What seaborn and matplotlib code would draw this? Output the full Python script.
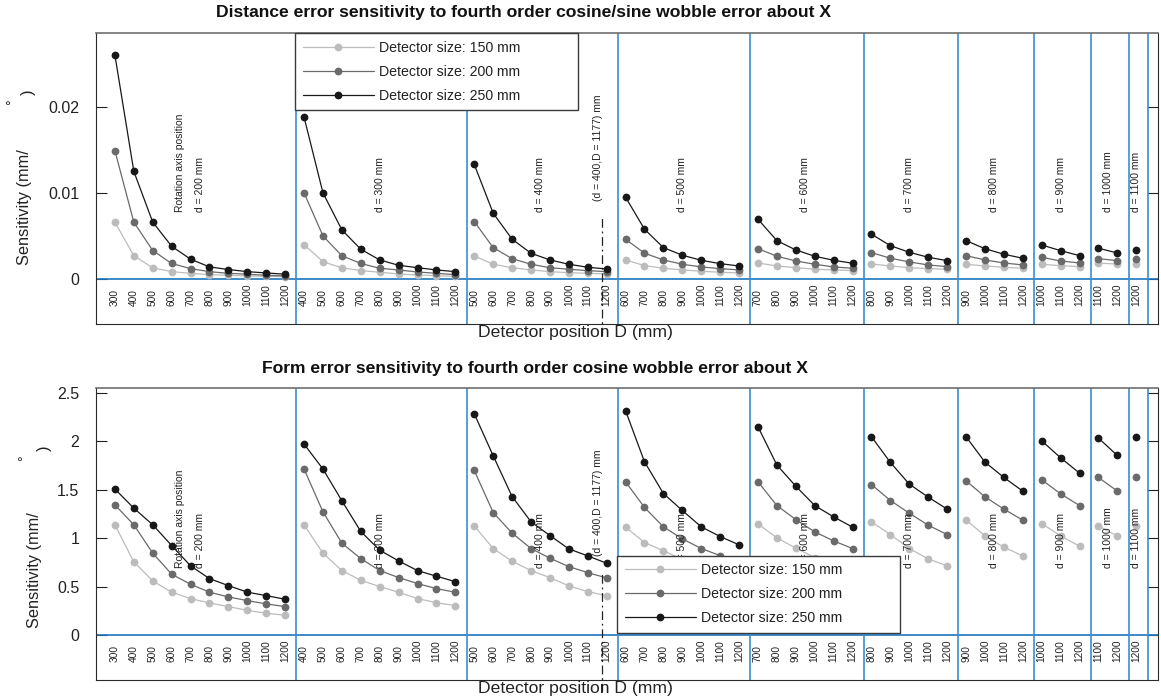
import matplotlib
matplotlib.use("Agg")
import numpy as np
import pandas as pd
import matplotlib.pyplot as plt
import seaborn as sns
from matplotlib.lines import Line2D
from matplotlib.transforms import blended_transform_factory

# ---------------------------------------------------------------- data
# rotation axis positions d (mm), one panel group per value
axis_positions = [200, 300, 400, 500, 600, 700, 800, 900, 1000, 1100]

# detector positions D (mm) evaluated for each rotation axis position
detector_positions = [
    [300, 400, 500, 600, 700, 800, 900, 1000, 1100, 1200],
    [400, 500, 600, 700, 800, 900, 1000, 1100, 1200],
    [500, 600, 700, 800, 900, 1000, 1100, 1200],
    [600, 700, 800, 900, 1000, 1100, 1200],
    [700, 800, 900, 1000, 1100, 1200],
    [800, 900, 1000, 1100, 1200],
    [900, 1000, 1100, 1200],
    [1000, 1100, 1200],
    [1100, 1200],
    [1200],
]

detector_sizes = ["Detector size: 150 mm", "Detector size: 200 mm", "Detector size: 250 mm"]

# distance error sensitivity (mm/deg)
dist_150 = [
    [0.0066, 0.0027, 0.0013, 0.00085, 0.00066, 0.0005, 0.00043, 0.00035, 0.00031, 0.00027],
    [0.0040, 0.0020, 0.0013, 0.00097, 0.00078, 0.00058, 0.00047, 0.00038, 0.00031],
    [0.00267, 0.00171, 0.00131, 0.00105, 0.00085, 0.00073, 0.00066, 0.00058],
    [0.00221, 0.00155, 0.00124, 0.00105, 0.0009, 0.00078, 0.0007],
    [0.00186, 0.00151, 0.00131, 0.00113, 0.00105, 0.00097],
    [0.00174, 0.00151, 0.00131, 0.0012, 0.00113],
    [0.00171, 0.00151, 0.00136, 0.00124],
    [0.00171, 0.00155, 0.00143],
    [0.00183, 0.00174],
    [0.00174],
]
dist_200 = [
    [0.0149, 0.0066, 0.0033, 0.0018, 0.0012, 0.00085, 0.00066, 0.00055, 0.00043, 0.00035],
    [0.0100, 0.0050, 0.0027, 0.0018, 0.00124, 0.00105, 0.00081, 0.00066, 0.0005],
    [0.00667, 0.00364, 0.00236, 0.00171, 0.00131, 0.00113, 0.00097, 0.00085],
    [0.00462, 0.00299, 0.00221, 0.00171, 0.0014, 0.0012, 0.00105],
    [0.00352, 0.00264, 0.00209, 0.00171, 0.0014, 0.00124],
    [0.00306, 0.00241, 0.00198, 0.00163, 0.00143],
    [0.00271, 0.00221, 0.00186, 0.00163],
    [0.00252, 0.00209, 0.00186],
    [0.00236, 0.00213],
    [0.00233],
]
dist_250 = [
    [0.0260, 0.0125, 0.0066, 0.0038, 0.0023, 0.0014, 0.0011, 0.00085, 0.0007, 0.00055],
    [0.0188, 0.0100, 0.0057, 0.00345, 0.00221, 0.00159, 0.00131, 0.00105, 0.00085],
    [0.0133, 0.00764, 0.00462, 0.00299, 0.00221, 0.00171, 0.00136, 0.00116],
    [0.0095, 0.00578, 0.00364, 0.00276, 0.00217, 0.00178, 0.00151],
    [0.00694, 0.00445, 0.00337, 0.00264, 0.00217, 0.00183],
    [0.0052, 0.00387, 0.0031, 0.00252, 0.00213],
    [0.00445, 0.00352, 0.00287, 0.00241],
    [0.00395, 0.00329, 0.00271],
    [0.00357, 0.00302],
    [0.00334],
]

# form error sensitivity (mm/deg)
form_150 = [
    [1.138, 0.755, 0.558, 0.442, 0.375, 0.331, 0.293, 0.255, 0.224, 0.204],
    [1.138, 0.845, 0.665, 0.565, 0.500, 0.441, 0.376, 0.334, 0.303],
    [1.127, 0.893, 0.762, 0.665, 0.593, 0.507, 0.448, 0.406],
    [1.114, 0.955, 0.870, 0.780, 0.700, 0.640, 0.590],
    [1.148, 1.003, 0.897, 0.800, 0.740, 0.680],
    [1.169, 1.037, 0.893, 0.786, 0.714],
    [1.189, 1.024, 0.907, 0.817],
    [1.151, 1.024, 0.917],
    [1.127, 1.021],
    [1.127],
]
form_200 = [
    [1.344, 1.138, 0.845, 0.628, 0.524, 0.442, 0.393, 0.355, 0.321, 0.293],
    [1.714, 1.272, 0.948, 0.789, 0.665, 0.593, 0.531, 0.479, 0.441],
    [1.699, 1.265, 1.052, 0.893, 0.793, 0.706, 0.644, 0.589],
    [1.582, 1.317, 1.117, 0.993, 0.893, 0.820, 0.760],
    [1.582, 1.337, 1.192, 1.065, 0.972, 0.893],
    [1.554, 1.389, 1.258, 1.134, 1.037],
    [1.593, 1.427, 1.300, 1.186],
    [1.603, 1.458, 1.337],
    [1.627, 1.486],
    [1.634],
]
form_250 = [
    [1.507, 1.310, 1.138, 0.924, 0.714, 0.582, 0.510, 0.442, 0.407, 0.369],
    [1.972, 1.714, 1.386, 1.069, 0.876, 0.765, 0.665, 0.607, 0.551],
    [2.285, 1.851, 1.430, 1.169, 1.027, 0.889, 0.817, 0.741],
    [2.316, 1.789, 1.461, 1.286, 1.117, 1.017, 0.931],
    [2.151, 1.755, 1.537, 1.337, 1.220, 1.114],
    [2.048, 1.782, 1.558, 1.424, 1.300],
    [2.048, 1.786, 1.627, 1.486],
    [2.006, 1.830, 1.672],
    [2.034, 1.854],
    [2.041],
]

# reference configuration marked with a dash-dot line
ref_d = 400
ref_D = 1177

dist_ticks = [0, 0.01, 0.02]
dist_ticklabels = ["0", "0.01", "0.02"]
form_ticks = [0, 0.5, 1, 1.5, 2, 2.5]
form_ticklabels = ["0", "0.5", "1", "1.5", "2", "2.5"]

# ---------------------------------------------------------------- style
sns.set_theme(style="white")
plt.rcParams["font.family"] = ["Liberation Sans", "DejaVu Sans"]

palette = {detector_sizes[0]: "#bcbcbc",
           detector_sizes[1]: "#6a6a6a",
           detector_sizes[2]: "#181818"}
sep_color = "#3b8fd0"
zero_color = "#1c76c0"
text_color = "#222222"
MS = 5.6
LW = 0.9
SMALL = 7.5


def long_table(series):
    rows = []
    slot = 0
    for g, (d, Ds) in enumerate(zip(axis_positions, detector_positions)):
        for k, D in enumerate(Ds):
            for size, vals in zip(detector_sizes, series):
                rows.append(dict(slot=slot, d=d, D=D, size=size, value=vals[g][k]))
            slot += 1
    return pd.DataFrame(rows)


# slot index of every (d, D) pair along the x axis
slots = []
s = 0
for Ds in detector_positions:
    slots.append(list(range(s, s + len(Ds))))
    s += len(Ds)


def draw_panel(ax, series, ylim, ticks, ticklabels, legend_box, legend_loc):
    df = long_table(series)
    sns.lineplot(data=df, x="slot", y="value", hue="size", units="d",
                 estimator=None, sort=False, hue_order=detector_sizes,
                 palette=palette, marker="o", markersize=MS,
                 markeredgewidth=0, linewidth=LW, legend=False, ax=ax)

    ax.set_xlim(-1.0, 55.15)
    ax.set_ylim(*ylim)
    ax.set_xticks([])
    ax.set_xlabel("")
    ax.set_ylabel("")
    ax.set_yticks(ticks)
    ax.set_yticklabels(ticklabels)
    ax.tick_params(axis="y", direction="in", length=8, width=0.8,
                   left=True, right=True, labelsize=11.5, pad=12,
                   colors=text_color)
    for name, sp in ax.spines.items():
        sp.set_visible(True)
        sp.set_linewidth(0.8)
        sp.set_color("#2a2a2a")
    ax.spines["top"].set_color("#6e6e6e")
    ax.spines["top"].set_linewidth(1.2)

    ax.axhline(0, color=zero_color, lw=1.2, zorder=1)

    tr = blended_transform_factory(ax.transData, ax.transAxes)
    for g, (d, Ds) in enumerate(zip(axis_positions, detector_positions)):
        idx = slots[g]
        ax.axvline(idx[-1] + 0.6, color=sep_color, lw=1.2, zorder=1)
        for x, D in zip(idx, Ds):
            ax.text(x, 0.062, str(D), transform=tr, rotation=90,
                    ha="center", va="bottom", fontsize=7.3, color=text_color)
        centre = (idx[0] + idx[-1]) / 2
        ax.text(centre, 0.385, f"d = {d} mm", transform=tr, rotation=90,
                ha="center", va="bottom", fontsize=SMALL, color=text_color)
        if g == 0:
            ax.text(centre - 1.05, 0.385, "Rotation axis position",
                    transform=tr, rotation=90, ha="center", va="bottom",
                    fontsize=SMALL, color=text_color)

    # dash-dot marker at the reference configuration
    g = axis_positions.index(ref_d)
    Ds = detector_positions[g]
    k = max(i for i, D in enumerate(Ds) if D <= ref_D)
    xref = slots[g][k] + (ref_D - Ds[k]) / 100.0
    ax.plot([xref, xref], [-0.04, 0.371], transform=tr, color="#222222",
            lw=0.9, ls=(0, (7, 3, 1.5, 3)), clip_on=False, zorder=2)
    ax.text(xref - 0.25, 0.424, f"(d = {ref_d},D = {ref_D}) mm", transform=tr,
            rotation=90, ha="center", va="bottom", fontsize=SMALL, color=text_color)

    handles = [Line2D([], [], color=palette[sz], marker="o", markersize=MS,
                      markeredgewidth=0, linewidth=LW) for sz in detector_sizes]
    leg = ax.legend(handles, detector_sizes, loc=legend_loc,
                    bbox_to_anchor=legend_box, mode="expand",
                    borderaxespad=0, fontsize=10.2, handlelength=5.0,
                    handletextpad=0.4, borderpad=0.55, labelspacing=0.7,
                    fancybox=False, framealpha=1, edgecolor="#3a3a3a")
    leg.get_frame().set_linewidth(1.0)
    for t in leg.get_texts():
        t.set_color(text_color)
    leg.set_zorder(10)


W, H = 1161, 700
fig = plt.figure(figsize=(W / 100, H / 100), dpi=100)

ax_top = fig.add_axes([96 / W, 1 - 324 / H, 1062 / W, 291 / H])
ax_bot = fig.add_axes([96 / W, 1 - 680 / H, 1062 / W, 292 / H])

draw_panel(ax_top, [dist_150, dist_200, dist_250], (-0.00523, 0.02857),
           dist_ticks, dist_ticklabels,
           (0.1874, 0.708, 0.2665, 0.292), "upper left")
draw_panel(ax_bot, [form_150, form_200, form_250], (-0.465, 2.551),
           form_ticks, form_ticklabels,
           (0.4906, 0.161, 0.2665, 0.284), "lower left")

# titles and axis labels
fig.text(523 / W, 1 - 13 / H,
         "Distance error sensitivity to fourth order cosine/sine wobble error about X",
         ha="center", va="center", fontsize=12.6, fontweight="bold", color="#111111")
fig.text(535 / W, 1 - 369 / H,
         "Form error sensitivity to fourth order cosine wobble error about X",
         ha="center", va="center", fontsize=12.6, fontweight="bold", color="#111111")
fig.text(575 / W, 1 - 332 / H, "Detector position D (mm)",
         ha="center", va="center", fontsize=12.6, color=text_color)
fig.text(575 / W, 1 - 688 / H, "Detector position D (mm)",
         ha="center", va="center", fontsize=12.6, color=text_color)

# y labels, with the degree sign and closing bracket set apart
for xc, ybot, deg_xy, br_xy in [(25, 265, (12.5, 102), (28, 92)),
                                 (35, 628, (24, 458), (44, 448))]:
    fig.text(xc / W, 1 - ybot / H, "Sensitivity (mm/", rotation=90,
             ha="center", va="bottom", fontsize=11.8, color=text_color)
    fig.text(deg_xy[0] / W, 1 - deg_xy[1] / H, "\u00b0", rotation=90,
             ha="center", va="center", fontsize=10, color=text_color)
    fig.text(br_xy[0] / W, 1 - br_xy[1] / H, ")", rotation=90,
             ha="center", va="center", fontsize=11.8, color=text_color)

fig.savefig("out.png", dpi=100, facecolor="white")
